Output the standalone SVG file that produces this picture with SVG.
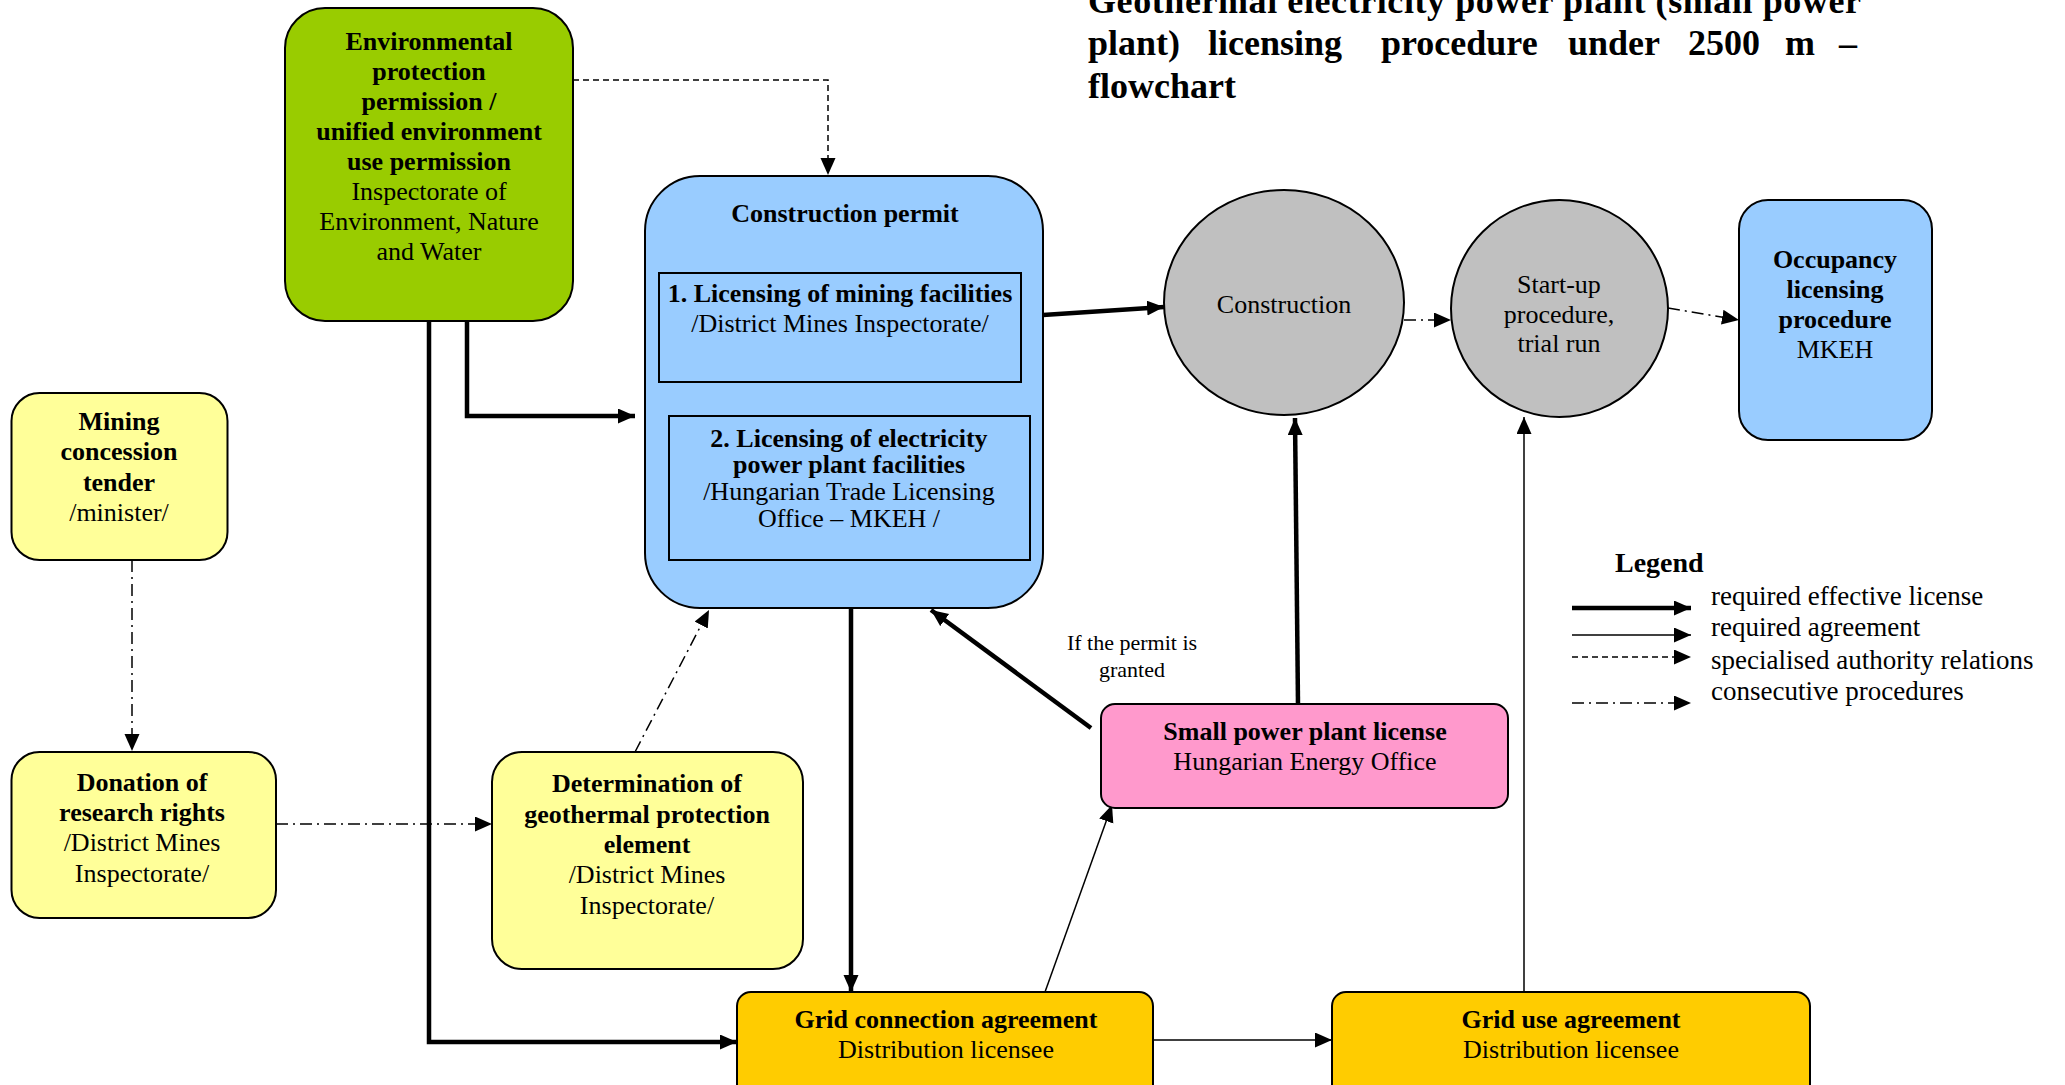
<svg xmlns="http://www.w3.org/2000/svg" width="2065" height="1085" viewBox="0 0 2065 1085">
<defs>
<marker id="ah" markerUnits="userSpaceOnUse" markerWidth="18" markerHeight="16" refX="17" refY="7.5" orient="auto">
<path d="M0,0 L17,7.5 L0,15 z" fill="#000"/>
</marker>
<style>
text{font-family:"Liberation Serif","Times New Roman",serif;fill:#000}
.n{font-size:26px;text-anchor:middle}
.b{font-weight:bold}
.box{stroke:#000;stroke-width:2}
.thick{fill:none;stroke:#000;stroke-width:4.5;marker-end:url(#ah)}
.thin{fill:none;stroke:#000;stroke-width:1.5;marker-end:url(#ah)}
.dash{fill:none;stroke:#000;stroke-width:1.5;stroke-dasharray:6 4;marker-end:url(#ah)}
.dd{fill:none;stroke:#000;stroke-width:1.5;stroke-dasharray:12 5 2 5;marker-end:url(#ah)}
.title{font-size:36px;font-weight:bold}
.leg{font-size:27px}
</style>
</defs>
<rect width="2065" height="1085" fill="#fff"/>

<g id="title">
<text class="title" x="1088" y="13" textLength="773" lengthAdjust="spacing">Geothermal electricity power plant (small power</text>
<text class="title" y="55"><tspan x="1088">plant)</tspan><tspan x="1208">licensing</tspan><tspan x="1381">procedure</tspan><tspan x="1568">under</tspan><tspan x="1688">2500</tspan><tspan x="1785">m</tspan><tspan x="1839">–</tspan></text>
<text class="title" x="1088" y="98">flowchart</text>
</g>

<g id="connectors">
<path class="dash" d="M563,80 H828 V175"/>
<path class="thick" d="M467,321 V416 H635"/>
<path class="thick" d="M429,321 V1042 H737"/>
<path class="thick" d="M1043,315 L1164,307"/>
<path class="dd" d="M1404,320 L1451,320"/>
<path class="dd" d="M1668,308 L1739,320"/>
<path class="dd" d="M132,560 V751"/>
<path class="dd" d="M276,824 H492"/>
<path class="dd" d="M635,752 L709,610"/>
<path class="thick" d="M851,608 V992"/>
<path class="thick" d="M1091,728 L931,610"/>
<path class="thick" d="M1298,704 L1295,418"/>
<path class="thin" d="M1045,992 L1112,805"/>
<path class="thin" d="M1153,1040 H1332"/>
<path class="thin" d="M1524,992 V417"/>
</g>

<g id="env">
<rect class="box" x="285" y="8" width="288" height="313" rx="40" ry="40" fill="#99CC00"/>
<text class="n b" x="429" y="50">Environmental</text>
<text class="n b" x="429" y="80">protection</text>
<text class="n b" x="429" y="110">permission /</text>
<text class="n b" x="429" y="140">unified environment</text>
<text class="n b" x="429" y="170">use permission</text>
<text class="n" x="429" y="200">Inspectorate of</text>
<text class="n" x="429" y="230">Environment, Nature</text>
<text class="n" x="429" y="260">and Water</text>
</g>

<g id="permit">
<rect class="box" x="645" y="176" width="398" height="432" rx="55" ry="55" fill="#99CCFF"/>
<text class="n b" x="845" y="222">Construction permit</text>
<rect class="box" x="659" y="273" width="362" height="109" fill="#99CCFF"/>
<text class="n b" x="840" y="302">1. Licensing of mining facilities</text>
<text class="n" x="840" y="332">/District Mines Inspectorate/</text>
<rect class="box" x="669" y="416" width="361" height="144" fill="#99CCFF"/>
<text class="n b" x="849" y="447">2. Licensing of electricity</text>
<text class="n b" x="849" y="473">power plant facilities</text>
<text class="n" x="849" y="500">/Hungarian Trade Licensing</text>
<text class="n" x="849" y="527">Office – MKEH /</text>
</g>

<g id="construction">
<ellipse class="box" cx="1284" cy="302.5" rx="120" ry="112.5" fill="#C0C0C0"/>
<text class="n" x="1284" y="313">Construction</text>
</g>

<g id="startup">
<ellipse class="box" cx="1559.5" cy="308.5" rx="108.5" ry="108.5" fill="#C0C0C0"/>
<text class="n" x="1559" y="293">Start-up</text>
<text class="n" x="1559" y="323">procedure,</text>
<text class="n" x="1559" y="352">trial run</text>
</g>

<g id="occupancy">
<rect class="box" x="1739" y="200" width="193" height="240" rx="29" ry="29" fill="#99CCFF"/>
<text class="n b" x="1835" y="268">Occupancy</text>
<text class="n b" x="1835" y="298">licensing</text>
<text class="n b" x="1835" y="328">procedure</text>
<text class="n" x="1835" y="358">MKEH</text>
</g>

<g id="mining">
<rect class="box" x="11.5" y="393" width="216" height="167" rx="28" ry="28" fill="#FFFF99"/>
<text class="n b" x="119" y="430">Mining</text>
<text class="n b" x="119" y="460">concession</text>
<text class="n b" x="119" y="491">tender</text>
<text class="n" x="119" y="521">/minister/</text>
</g>

<g id="donation">
<rect class="box" x="11.5" y="752" width="264.5" height="166" rx="28" ry="28" fill="#FFFF99"/>
<text class="n b" x="142" y="791">Donation of</text>
<text class="n b" x="142" y="821">research rights</text>
<text class="n" x="142" y="851">/District Mines</text>
<text class="n" x="142" y="882">Inspectorate/</text>
</g>

<g id="geothermal">
<rect class="box" x="492" y="752" width="311" height="217" rx="30" ry="30" fill="#FFFF99"/>
<text class="n b" x="647" y="792">Determination of</text>
<text class="n b" x="647" y="823">geothermal protection</text>
<text class="n b" x="647" y="853">element</text>
<text class="n" x="647" y="883">/District Mines</text>
<text class="n" x="647" y="914">Inspectorate/</text>
</g>

<g id="label">
<text x="1132" y="650" style="font-size:22px;text-anchor:middle">If the permit is</text>
<text x="1132" y="677" style="font-size:22px;text-anchor:middle">granted</text>
</g>

<g id="smallpp">
<rect class="box" x="1101" y="704" width="407" height="104" rx="14" ry="14" fill="#FF99CC"/>
<text class="n b" x="1305" y="740">Small power plant license</text>
<text class="n" x="1305" y="770">Hungarian Energy Office</text>
</g>

<g id="gridconn">
<rect class="box" x="737" y="992" width="416" height="120" rx="14" ry="14" fill="#FFCC00"/>
<text class="n b" x="946" y="1028">Grid connection agreement</text>
<text class="n" x="946" y="1058">Distribution licensee</text>
</g>

<g id="griduse">
<rect class="box" x="1332" y="992" width="478" height="120" rx="14" ry="14" fill="#FFCC00"/>
<text class="n b" x="1571" y="1028">Grid use agreement</text>
<text class="n" x="1571" y="1058">Distribution licensee</text>
</g>

<g id="legend">
<text class="leg b" x="1615" y="572" style="font-size:28px">Legend</text>
<path class="thick" d="M1572,608 H1691"/>
<path class="thin" d="M1572,635 H1691"/>
<path class="dash" d="M1572,657 H1691"/>
<path class="dd" d="M1572,703 H1691"/>
<text class="leg" x="1711" y="605">required effective license</text>
<text class="leg" x="1711" y="636">required agreement</text>
<text class="leg" x="1711" y="669">specialised authority relations</text>
<text class="leg" x="1711" y="700">consecutive procedures</text>
</g>
</svg>
